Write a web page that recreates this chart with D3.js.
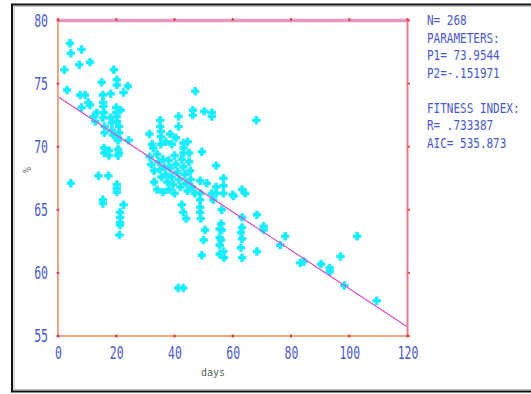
<!DOCTYPE html>
<html>
<head>
<meta charset="utf-8">
<script src="https://cdn.jsdelivr.net/npm/d3@7"></script>
<style>
  html, body { margin: 0; padding: 0; background: #fff; }
  svg { display: block; }
</style>
</head>
<body>
<svg id="chart" width="531" height="394"></svg>
<script>
var days = [
    4.1, 4.4, 8.1, 2.2, 7.3, 11, 3.1, 7.6, 9.3, 8.1, 10.4, 11, 4.4,
    19.2, 15, 20.2, 20.2, 24, 18.1, 22.5, 15.4,
    15.5, 15.6, 15.8, 15.4, 13.3, 12.2, 12.8, 18, 18.5,
    20, 20, 20.2, 20.3, 21, 16, 16, 18.5, 19, 21, 21.5,
    20.6, 20.6, 24.3, 15.8, 17.5, 17.5, 20.6, 20.6, 15.9, 21,
    13.9, 17.3, 20.2, 20.2, 20.2, 15.4, 15.4, 22.5, 21.3, 21.3, 21.3, 21.3, 21.1,
    47.1, 46.3, 46.3, 50.2, 52.8, 52.8, 35.1, 35.1, 41.4, 41.4, 31.4, 35.3, 35.3, 35.3,
    38.5, 39.1, 43.1, 43.1, 43.1, 32.3, 32.7, 49.4, 54.3, 56.8, 56.8, 56.8, 48.8, 51.1, 54.3, 54.3,
    31.5, 32, 33, 34, 34.5, 35, 35.5, 36, 36.5, 37, 37.5, 38, 38.5, 39, 39.5,
    40, 40.5, 41, 41.5, 42, 42.5, 43, 43.5, 44, 44.5, 45, 45.4, 45.5,
    33, 34, 36, 38, 40, 46, 47, 37, 40.5, 44.5, 45,
    48.8, 48.8, 48.8, 48.8, 49, 50.5, 50, 49.4, 42.5, 43, 44, 52.8, 53.3,
    56.2, 56, 56.2, 56, 56.8, 57, 63.2, 63.2, 62.8, 63.2, 62.8, 63.2, 60.3, 64.3,
    68.3, 68.3, 41.3, 43, 68.1,
    55.5, 55.5, 55.5, 55.5, 63.2, 60, 70.6, 70.6, 78, 76.3,
    84.4, 83.2, 90.3, 93.3, 93.3, 97, 98.3, 109.4, 102.7
];
var pct = [
    78.2, 77.4, 77.7, 76.1, 76.5, 76.7, 74.5, 74.1, 74.1, 73.1, 73.5, 73.3, 67.1,
    76.1, 75.1, 75.3, 74.9, 74.8, 74.2, 74.3, 74.1,
    73.5, 73.2, 72.7, 72.3, 72.7, 72.4, 72, 72.3, 71.9,
    73.1, 72.7, 72.4, 72, 71.6, 71.6, 71.1, 71.3, 70.9, 71.1, 72.9,
    70.7, 70.5, 70.5, 69.9, 69.7, 69.3, 69.8, 69.3, 69.5, 69.5,
    67.7, 67.7, 67, 66.7, 66.4, 65.8, 65.5, 65.4, 64.8, 64.4, 64, 63.8, 63,
    74.4, 72.9, 72.5, 72.8, 72.7, 72.4, 72.1, 71.6, 72.4, 71.6, 71, 71.2, 70.8, 70.2,
    71, 70.2, 70.3, 69.9, 69.5, 70.2, 69.9, 69.6, 68.5, 67.5, 66.9, 66.3, 67.3, 67.1, 66.8, 66.3,
    69.2, 68.6, 68.1, 69.4, 68.8, 68.2, 67.6, 69, 68.4, 67.8, 67.2, 68.9, 68.3, 67.6, 67,
    69.3, 68.6, 68, 67.4, 66.8, 69, 68.4, 67.8, 67.1, 66.5, 68.8, 68.1, 67.4,
    67.2, 66.6, 66.4, 66.6, 66.3, 66.8, 66.3, 70.4, 70.7, 70.4, 69.5,
    66.3, 65.8, 65.2, 64.8, 64.3, 63.4, 62.6, 61.4, 65.4, 64.8, 64.3, 66.3, 65.8,
    65, 63.9, 63.4, 62.6, 61.7, 61.2, 64.4, 63.6, 63.2, 62.7, 62, 61.2, 66.1, 66.3,
    64.6, 61.7, 58.8, 58.8, 72.1,
    63.5, 62.8, 62.2, 61.5, 66.6, 66.2, 63.7, 63.4, 62.9, 62.2,
    60.9, 60.8, 60.7, 60.4, 60.1, 61.3, 59, 57.8, 62.9
];

// fitted line  y = P1 + P2 * x
var P1 = 73.9544, P2 = -0.151971;

var xTicks = [0, 20, 40, 60, 80, 100, 120];
var yTicks = [55, 60, 65, 70, 75, 80];

var infoLines = [
    "N= 268",
    "PARAMETERS:",
    "P1= 73.9544",
    "P2=-.151971",
    "",
    "FITNESS INDEX:",
    "R= .733387",
    "AIC= 535.873"
];

var svg = d3.select("#chart");
var blue = "#4a58cc";
var mono = "'DejaVu Sans Mono', monospace";

var x = d3.scaleLinear().domain([0, 120]).range([58, 407.5]);
var y = d3.scaleLinear().domain([55, 80]).range([336, 20.5]);

// outer frame (black with a grey inner line)
svg.append("rect")
    .attr("x", 12).attr("y", 4.5)
    .attr("width", 530).attr("height", 387)
    .attr("fill", "none")
    .attr("stroke", "#111")
    .attr("stroke-width", 2);
svg.append("rect")
    .attr("x", 14).attr("y", 6.5)
    .attr("width", 530).attr("height", 383)
    .attr("fill", "none")
    .attr("stroke", "#bbb")
    .attr("stroke-width", 1);

// points
var pts = d3.range(days.length).map(function(i) {
    return {d: days[i], p: pct[i]};
});
svg.append("g").selectAll("path")
    .data(pts)
    .enter().append("path")
    .attr("d", d3.symbol().type(d3.symbolCross).size(30))
    .attr("transform", function(d) {
        return "translate(" + x(d.d) + "," + y(d.p) + ")";
    })
    .attr("fill", "#00f4f8")
    .attr("stroke", "#2ee8ff")
    .attr("stroke-width", 1.1)
    .attr("stroke-linejoin", "round");

// regression line
svg.append("line")
    .attr("x1", x(0)).attr("y1", y(P1))
    .attr("x2", x(120)).attr("y2", y(P1 + P2 * 120))
    .attr("stroke", "#d84cc8")
    .attr("stroke-width", 1.2);

// frame of the plot: pink top, orange left/bottom, red right
svg.append("line")
    .attr("x1", x(0)).attr("x2", x(120))
    .attr("y1", y(80)).attr("y2", y(80))
    .attr("stroke", "#e39abd").attr("stroke-width", 3.5);
svg.append("line")
    .attr("x1", x(0)).attr("x2", x(0))
    .attr("y1", y(80)).attr("y2", y(55))
    .attr("stroke", "#f2a784").attr("stroke-width", 2);
svg.append("line")
    .attr("x1", x(0)).attr("x2", x(120))
    .attr("y1", y(55)).attr("y2", y(55))
    .attr("stroke", "#f2a784").attr("stroke-width", 2);
svg.append("line")
    .attr("x1", x(120)).attr("x2", x(120))
    .attr("y1", y(80)).attr("y2", y(55))
    .attr("stroke", "#e87c92").attr("stroke-width", 2);

// little tick marks
var tk = svg.append("g");
tk.selectAll(".bt").data(xTicks).enter().append("rect")
    .attr("x", function(d) { return x(d) - 1; })
    .attr("y", y(55) - 1.5).attr("width", 2).attr("height", 3)
    .attr("fill", "#e23a3a");
tk.selectAll(".tt").data(xTicks).enter().append("rect")
    .attr("x", function(d) { return x(d) - 1; })
    .attr("y", y(80) - 2.5).attr("width", 2).attr("height", 3)
    .attr("fill", "#e04848");
tk.selectAll(".lt").data(yTicks).enter().append("rect")
    .attr("x", x(0) - 1.5)
    .attr("y", function(d) { return y(d) - 1; })
    .attr("width", 3).attr("height", 2)
    .attr("fill", "#e0407a");
tk.selectAll(".rt").data(yTicks).enter().append("rect")
    .attr("x", x(120))
    .attr("y", function(d) { return y(d) - 1; })
    .attr("width", 2.5).attr("height", 2)
    .attr("fill", "#e65050");

// tick labels, tall narrow pixel look
var xAxis = d3.axisBottom(x).tickValues(xTicks).tickSize(0).tickPadding(0);
var gx = svg.append("g").call(xAxis);
gx.select(".domain").remove();
gx.selectAll(".tick text")
    .attr("y", 0).attr("dy", null)
    .attr("transform", "translate(0,359) scale(1,1.5)")
    .attr("fill", blue)
    .attr("font-family", mono)
    .attr("font-size", 11.5);

var yAxis = d3.axisLeft(y).tickValues(yTicks).tickSize(0).tickPadding(0);
var gy = svg.append("g").call(yAxis);
gy.select(".domain").remove();
gy.selectAll(".tick").attr("transform", "translate(0,0)");
gy.selectAll(".tick text")
    .attr("x", 0).attr("dy", null)
    .attr("text-anchor", "end")
    .attr("transform", function(d) {
        return "translate(48," + (y(d) + 6) + ") scale(1,1.5)";
    })
    .attr("fill", blue)
    .attr("font-family", mono)
    .attr("font-size", 11.5);

// axis titles
svg.append("text")
    .attr("transform", "translate(23,170) rotate(90)")
    .attr("text-anchor", "middle")
    .attr("fill", "#666")
    .attr("font-family", mono)
    .attr("font-size", 10)
    .text("%");
svg.append("text")
    .attr("x", 213).attr("y", 376)
    .attr("text-anchor", "middle")
    .attr("fill", "#556655")
    .attr("font-family", mono)
    .attr("font-size", 10)
    .text("days");

// statistics block on the right
svg.append("g").selectAll("text")
    .data(infoLines)
    .enter().append("text")
    .attr("transform", function(d, i) {
        return "translate(427," + (25 + i * 17.5) + ") scale(1,1.35)";
    })
    .attr("fill", blue)
    .attr("font-family", mono)
    .attr("font-size", 11)
    .text(function(d) { return d; });
</script>
</body>
</html>
